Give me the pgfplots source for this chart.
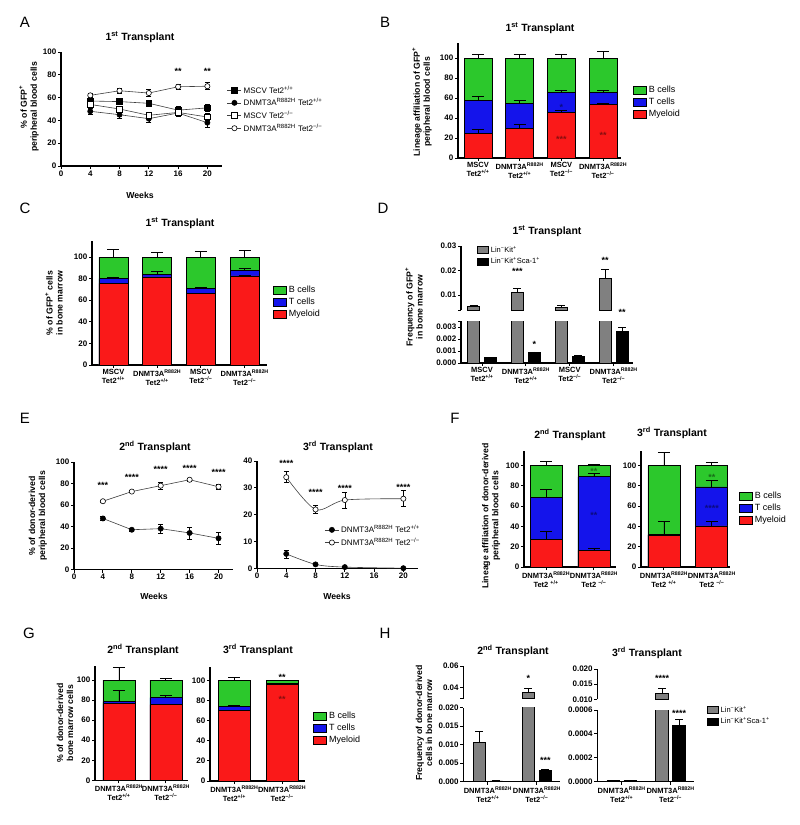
\documentclass[border=0pt]{standalone}
\usepackage{fontspec}
\setmainfont{Liberation Sans}
\usepackage{pgfplots}
\pgfplotsset{compat=1.18}

\definecolor{cgreen}{RGB}{44,200,44}
\definecolor{cblue}{RGB}{20,20,235}
\definecolor{cred}{RGB}{250,25,25}
\definecolor{cgray}{RGB}{128,128,128}

\tikzset{
  star/.style={font=\bfseries\fontsize{9}{9}\selectfont, yshift=-2pt, inner sep=0pt},
  plab/.style={font=\fontsize{15}{15}\selectfont, anchor=center},
  ttl/.style={font=\bfseries\fontsize{10.5}{12}\selectfont, anchor=center},
  ylab/.style={font=\bfseries\fontsize{8.7}{10}\selectfont, rotate=90, align=center, anchor=center},
  xlab/.style={font=\bfseries\fontsize{8.7}{10}\selectfont, anchor=center},
}

\pgfplotsset{
  gp/.style={scale only axis, anchor=south west,
    axis x line*=bottom, axis y line*=left,
    axis line style={-, line width=1.1pt, black},
    tick align=outside, major tick length=3pt,
    tick style={line width=1pt, black},
    ticklabel style={font=\bfseries\fontsize{8}{9}\selectfont, inner sep=1.5pt},
    /pgf/number format/assume math mode=true,
    scaled ticks=false, enlargelimits=false},
  bxt/.style={xticklabel style={align=center, font=\bfseries\fontsize{7.5}{9}\selectfont}},
  sbar/.style={ybar, bar shift=0pt, bar width=#1, draw=black, line width=0.8pt,
    error bars/y dir=plus, error bars/y explicit,
    error bars/error bar style={line width=0.9pt, black},
    error bars/error mark options={rotate=90, line width=0.9pt, mark size=6pt, black}},
  gbar/.style={ybar, bar shift=0pt, bar width=#1, draw=black, line width=0.8pt,
    error bars/y dir=plus, error bars/y explicit,
    error bars/error bar style={line width=0.9pt, black},
    error bars/error mark options={rotate=90, line width=0.9pt, mark size=4pt, black}},
  blegend/.style={legend style={draw=none, fill=none, font=\fontsize{9}{10}\selectfont, anchor=north west, at={#1}},
    legend cell align=left,
    legend image code/.code={\draw[##1, line width=0.8pt] (0pt,-4pt) rectangle (13pt,4pt);}},
  slegend/.style={legend style={draw=none, fill=none, font=\fontsize{7.5}{9}\selectfont, anchor=north west, at={#1}},
    legend cell align=left,
    legend image code/.code={\draw[##1, line width=0.8pt] (0pt,-3.5pt) rectangle (11pt,3.5pt);}},
  llegend/.style={legend style={draw=none, fill=none, font=\fontsize{8}{9}\selectfont, anchor=north west, at={#1}},
    legend cell align=left,
    legend image code/.code={\draw[mark repeat=2,mark phase=2,##1] plot coordinates {(0pt,0pt)(7pt,0pt)(14pt,0pt)};}},
  lp/.style={black!75, line width=0.6pt,
    error bars/y dir=both, error bars/y explicit,
    error bars/error bar style={line width=0.6pt, black},
    error bars/error mark options={rotate=90, line width=0.6pt, mark size=2.5pt, black}},
}

\begin{document}
\begin{tikzpicture}
\path[use as bounding box] (0,0) rectangle (800pt,-825pt);

% ================= A =================
\begin{axis}[gp, at={(61pt,-166pt)}, width=161pt, height=114pt,
  xmin=0, xmax=22, ymin=0, ymax=100, xtick={0,4,...,20}, ytick={0,20,...,100}, clip=false,
  llegend={(axis description cs:1.012,0.74)}]
\addplot[lp, mark=square*, mark size=2.8pt, mark options={fill=black, draw=black, solid}] coordinates {(4,57)+-(0,1.5) (8,56.5)+-(0,1.5) (12,55)+-(0,2) (16,49)+-(0,3) (20,51)+-(0,3)};
\addlegendentry{MSCV Tet2\textsuperscript{+/+}}
\addplot[lp, mark=*, mark size=2.6pt, mark options={fill=black, draw=black, solid}] coordinates {(4,48)+-(0,3) (8,45)+-(0,3) (12,41.5)+-(0,3) (16,46.5)+-(0,2.5) (20,38)+-(0,4)};
\addlegendentry{DNMT3A\textsuperscript{R882H} Tet2\textsuperscript{+/+}}
\addplot[lp, mark=square*, mark size=2.8pt, mark options={fill=white, draw=black, solid}] coordinates {(4,54)+-(0,2) (8,50)+-(0,2) (12,44.5)+-(0,2) (16,47)+-(0,2) (20,43)+-(0,3)};
\addlegendentry{MSCV Tet2\textsuperscript{−/−}}
\addplot[lp, mark=*, mark size=2.6pt, mark options={fill=white, draw=black, solid}] coordinates {(4,62)+-(0,1.5) (8,66)+-(0,2) (12,64)+-(0,3) (16,69.5)+-(0,2.5) (20,70)+-(0,3)};
\addlegendentry{DNMT3A\textsuperscript{R882H} Tet2\textsuperscript{−/−}}
\node[star] at (axis cs:16,85) {**};
\node[star] at (axis cs:20,85) {**};
\end{axis}

% ================= B =================
\begin{axis}[gp, bxt, at={(458pt,-158pt)}, width=163pt, height=115pt,
  xmin=-0.48, xmax=3.43, ymin=0, ymax=115, ytick={0,20,...,100}, xtick={0,1,2,3},
  xticklabels={{MSCV\\Tet2\textsuperscript{+/+}},{DNMT3A\textsuperscript{R882H}\\Tet2\textsuperscript{+/+}},{MSCV\\Tet2\textsuperscript{−/−}},{DNMT3A\textsuperscript{R882H}\\Tet2\textsuperscript{−/−}}},
  clip=false, blegend={(axis description cs:1.055,0.661)}]
\addplot[fill=cgreen, sbar=28pt] coordinates {(0,100)+-(0,4) (1,100)+-(0,4) (2,100)+-(0,4) (3,100)+-(0,7)};
\addlegendentry{B cells}
\addplot[fill=cblue, sbar=28pt] coordinates {(0,57.5)+-(0,4) (1,54.5)+-(0,3) (2,65.5)+-(0,2) (3,66)+-(0,1.5)};
\addlegendentry{T cells}
\addplot[fill=cred, sbar=28pt] coordinates {(0,25)+-(0,3.5) (1,30)+-(0,3.5) (2,45.5)+-(0,2) (3,53.5)+-(0,1)};
\addlegendentry{Myeloid}
\node[star, text=cred!55!black] at (axis cs:2,21) {***};
\node[star, text=cred!55!black] at (axis cs:3,25) {**};
\node[star, text=cblue!55!black] at (axis cs:2,53) {*};
\end{axis}

% ================= C =================
\begin{axis}[gp, bxt, at={(92pt,-365pt)}, width=175pt, height=124.2pt,
  xmin=-0.49, xmax=3.51, ymin=0, ymax=115, ytick={0,20,...,100}, xtick={0,1,2,3},
  xticklabels={{MSCV\\Tet2\textsuperscript{+/+}},{DNMT3A\textsuperscript{R882H}\\Tet2\textsuperscript{+/+}},{MSCV\\Tet2\textsuperscript{−/−}},{DNMT3A\textsuperscript{R882H}\\Tet2\textsuperscript{−/−}}},
  clip=false, blegend={(axis description cs:1.017,0.668)}]
\addplot[fill=cgreen, sbar=29pt] coordinates {(0,100)+-(0,7) (1,100)+-(0,4.5) (2,100)+-(0,5.5) (3,100)+-(0,6)};
\addlegendentry{B cells}
\addplot[fill=cblue, sbar=29pt] coordinates {(0,80)+-(0,1.5) (1,84)+-(0,2.5) (2,71)+-(0,1) (3,87.5)+-(0,2)};
\addlegendentry{T cells}
\addplot[fill=cred, sbar=29pt] coordinates {(0,75.5)+-(0,0) (1,81.5)+-(0,0) (2,66)+-(0,0) (3,82.5)+-(0,0)};
\addlegendentry{Myeloid}
\end{axis}

% ================= D (top) =================
\begin{axis}[gp, at={(461pt,-310pt)}, width=172pt, height=64pt,
  xmin=-0.48, xmax=3.44, ymin=0.004, ymax=0.03, axis x line=none,
  ytick={0.01,0.02,0.03}, yticklabels={0.01,0.02,0.03},
  extra y ticks={0.004}, extra y tick labels={},
  clip=true, clip mode=individual,
  slegend={(axis description cs:0.075,1.06)}]
\addplot[fill=cgray, gbar=12pt] coordinates {(-0.194,0.0055)+-(0,0.0003) (0.806,0.0113)+-(0,0.0013) (1.806,0.0050)+-(0,0.0009) (2.806,0.0168)+-(0,0.0038)};
\addlegendentry{Lin\textsuperscript{−}Kit\textsuperscript{+}}
\addlegendimage{fill=black, draw=black}
\addlegendentry{Lin\textsuperscript{−}Kit\textsuperscript{+}Sca-1\textsuperscript{+}}
\node[star] at (axis cs:0.806,0.0205) {***};
\node[star] at (axis cs:2.806,0.0251) {**};
\node[star] at (axis cs:3.194,0.0039) {**};
\end{axis}
% ================= D (bottom) =================
\begin{axis}[gp, bxt, at={(461pt,-363pt)}, width=172pt, height=42pt,
  xmin=-0.48, xmax=3.44, ymin=0, ymax=0.0035,
  ytick={0,0.001,0.002,0.003}, yticklabels={0.000,0.001,0.002,0.003},
  extra y ticks={0.0035}, extra y tick labels={},
  xtick={0,1,2,3},
  xticklabels={{MSCV\\Tet2\textsuperscript{+/+}},{DNMT3A\textsuperscript{R882H}\\Tet2\textsuperscript{+/+}},{MSCV\\Tet2\textsuperscript{−/−}},{DNMT3A\textsuperscript{R882H}\\Tet2\textsuperscript{−/−}}},
  clip=true, clip mode=individual]
\addplot[fill=cgray, gbar=12pt] coordinates {(-0.194,0.0055)+-(0,0) (0.806,0.0113)+-(0,0) (1.806,0.0050)+-(0,0) (2.806,0.0168)+-(0,0)};
\addplot[fill=black, gbar=12pt] coordinates {(0.194,0.00045)+-(0,0.00003) (1.194,0.00089)+-(0,0.00003) (2.194,0.00052)+-(0,0.00008) (3.194,0.0026)+-(0,0.0004)};
\node[star] at (axis cs:1.194,0.00175) {*};
\end{axis}

% ================= E (left) =================
\begin{axis}[gp, at={(74pt,-569.5pt)}, width=159pt, height=107.5pt,
  xmin=0, xmax=22, ymin=0, ymax=100, xtick={0,4,...,20}, ytick={0,20,...,100}, clip=false]
\addplot[lp, mark=*, mark size=2.6pt, mark options={fill=black, draw=black, solid}] coordinates {(4,47.5)+-(0,2) (8,37)+-(0,1) (12,38)+-(0,4) (16,34)+-(0,5.5) (20,29)+-(0,6)};
\addplot[lp, mark=*, mark size=2.6pt, mark options={fill=white, draw=black, solid}] coordinates {(4,63.5)+-(0,1) (8,72.5)+-(0,1) (12,78)+-(0,3) (16,83.5)+-(0,1) (20,77)+-(0,2)};
\node[star] at (axis cs:4,80) {***};
\node[star] at (axis cs:8,88) {****};
\node[star] at (axis cs:12,95) {****};
\node[star] at (axis cs:16,96) {****};
\node[star] at (axis cs:20,92) {****};
\end{axis}

% ================= E (right) =================
\begin{axis}[gp, at={(257pt,-568.7pt)}, width=161pt, height=107.7pt,
  xmin=0, xmax=22, ymin=0, ymax=40, xtick={0,4,...,20}, ytick={0,10,...,40}, clip=false,
  llegend={(axis description cs:0.40,0.44)}]
\addplot[lp, smooth, mark=*, mark size=2.6pt, mark options={fill=black, draw=black, solid}] coordinates {(4,5.5)+-(0,1.5) (8,1.6)+-(0,0.3) (12,0.6)+-(0,0.2) (20,0.2)+-(0,0.1)};
\addlegendentry{DNMT3A\textsuperscript{R882H} Tet2\textsuperscript{+/+}}
\addplot[lp, smooth, mark=*, mark size=2.6pt, mark options={fill=white, draw=black, solid}] coordinates {(4,34)+-(0,2) (8,22)+-(0,1.5) (12,25.5)+-(0,3) (20,26)+-(0,3)};
\addlegendentry{DNMT3A\textsuperscript{R882H} Tet2\textsuperscript{−/−}}
\node[star] at (axis cs:4,40) {****};
\node[star] at (axis cs:8,29) {****};
\node[star] at (axis cs:12,30.5) {****};
\node[star] at (axis cs:20,31) {****};
\end{axis}

% ================= F (left) =================
\begin{axis}[gp, bxt, at={(524pt,-567pt)}, width=92pt, height=116.5pt,
  xmin=-0.46, xmax=1.46, ymin=0, ymax=115, ytick={0,20,...,100}, xtick={0,1},
  xticklabels={{DNMT3A\textsuperscript{R882H}\\Tet2 \textsuperscript{+/+}},{DNMT3A\textsuperscript{R882H}\\Tet2 \textsuperscript{−/−}}},
  clip=false]
\addplot[fill=cgreen, sbar=32pt] coordinates {(0,100)+-(0,4.5) (1,100)+-(0,1.5)};
\addplot[fill=cblue, sbar=32pt] coordinates {(0,69)+-(0,8) (1,89)+-(0,3)};
\addplot[fill=cred, sbar=32pt] coordinates {(0,27.5)+-(0,7.5) (1,16.5)+-(0,1.5)};
\node[star, text=cgreen!55!black] at (axis cs:1,96) {**};
\node[star, text=cblue!55!black] at (axis cs:1,53) {**};
\end{axis}

% ================= F (right) =================
\begin{axis}[gp, bxt, at={(641pt,-567pt)}, width=89pt, height=116.5pt,
  xmin=-0.48, xmax=1.38, ymin=0, ymax=115, ytick={0,20,...,100}, xtick={0,1},
  xticklabels={{DNMT3A\textsuperscript{R882H}\\Tet2 \textsuperscript{+/+}},{DNMT3A\textsuperscript{R882H}\\Tet2 \textsuperscript{−/−}}},
  clip=false, blegend={(axis description cs:1.067,0.678)}]
\addplot[fill=cgreen, sbar=32pt] coordinates {(0,100)+-(0,13.5) (1,100)+-(0,3)};
\addlegendentry{B cells}
\addplot[fill=cblue, sbar=32pt] coordinates {(0,32)+-(0,13) (1,79)+-(0,6)};
\addlegendentry{T cells}
\addplot[fill=cred, sbar=32pt] coordinates {(0,31.5)+-(0,0) (1,40.5)+-(0,4.5)};
\addlegendentry{Myeloid}
\node[star, text=cgreen!55!black] at (axis cs:1,90) {**};
\node[star, text=cblue!55!black] at (axis cs:1,60) {****};
\end{axis}

% ================= G (left) =================
\begin{axis}[gp, bxt, at={(95pt,-780.3pt)}, width=93pt, height=114.3pt,
  xmin=-0.51, xmax=1.47, ymin=0, ymax=114, ytick={0,20,...,100}, xtick={0,1},
  xticklabels={{DNMT3A\textsuperscript{R882H}\\Tet2\textsuperscript{+/+}},{DNMT3A\textsuperscript{R882H}\\Tet2\textsuperscript{−/−}}},
  clip=false]
\addplot[fill=cgreen, sbar=32pt] coordinates {(0,100)+-(0,12.5) (1,100)+-(0,1.5)};
\addplot[fill=cblue, sbar=32pt] coordinates {(0,78.5)+-(0,11) (1,82.5)+-(0,2)};
\addplot[fill=cred, sbar=32pt] coordinates {(0,76.5)+-(0,0) (1,75.5)+-(0,0)};
\end{axis}

% ================= G (right) =================
\begin{axis}[gp, bxt, at={(210pt,-781pt)}, width=95pt, height=114.3pt,
  xmin=-0.51, xmax=1.48, ymin=0, ymax=114, ytick={0,20,...,100}, xtick={0,1},
  xticklabels={{DNMT3A\textsuperscript{R882H}\\Tet2\textsuperscript{+/+}},{DNMT3A\textsuperscript{R882H}\\Tet2\textsuperscript{−/−}}},
  clip=false, blegend={(axis description cs:1.053,0.639)}]
\addplot[fill=cgreen, sbar=32pt] coordinates {(0,100)+-(0,3.5) (1,100)+-(0,0.5)};
\addlegendentry{B cells}
\addplot[fill=cblue, sbar=32pt] coordinates {(0,74.5)+-(0,0.5) (1,97.5)+-(0,0)};
\addlegendentry{T cells}
\addplot[fill=cred, sbar=32pt] coordinates {(0,70.5)+-(0,0) (1,96)+-(0,0)};
\addlegendentry{Myeloid}
\node[star] at (axis cs:1,105) {**};
\node[star, text=cred!55!black] at (axis cs:1,83) {**};
\end{axis}

% ================= H left (top) =================
\begin{axis}[gp, at={(463.3pt,-698.5pt)}, width=96.7pt, height=32.5pt,
  xmin=-0.5, xmax=1.47, ymin=0.03, ymax=0.06, axis x line=none,
  ytick={0.04,0.06}, yticklabels={0.04,0.06},
  extra y ticks={0.03}, extra y tick labels={},
  clip=true, clip mode=individual]
\addplot[fill=cgray, gbar=12.5pt] coordinates {(0.827,0.0355)+-(0,0.004)};
\node[star] at (axis cs:0.827,0.050) {*};
\end{axis}
% ================= H left (bottom) =================
\begin{axis}[gp, bxt, at={(463.3pt,-781.7pt)}, width=96.7pt, height=74pt,
  xmin=-0.5, xmax=1.47, ymin=0, ymax=0.02,
  ytick={0,0.005,0.01,0.015,0.02}, yticklabels={0.000,0.005,0.010,0.015,0.020},
  xtick={0,1},
  xticklabels={{DNMT3A\textsuperscript{R882H}\\Tet2\textsuperscript{+/+}},{DNMT3A\textsuperscript{R882H}\\Tet2\textsuperscript{−/−}}},
  clip=true, clip mode=individual]
\addplot[fill=cgray, gbar=12.5pt] coordinates {(-0.173,0.0107)+-(0,0.003) (0.827,0.0355)+-(0,0)};
\addplot[fill=black, gbar=12.5pt] coordinates {(0.173,0.0002)+-(0,0.00005) (1.173,0.0031)+-(0,0.0002)};
\node[star] at (axis cs:1.173,0.0064) {***};
\end{axis}

% ================= H right (top) =================
\begin{axis}[gp, at={(597.3pt,-699.3pt)}, width=96.7pt, height=30.3pt,
  xmin=-0.5, xmax=1.48, ymin=0.01, ymax=0.02, axis x line=none,
  ytick={0.01,0.015,0.02}, yticklabels={0.010,0.015,0.020},
  clip=true, clip mode=individual]
\addplot[fill=cgray, gbar=12.5pt] coordinates {(0.826,0.0118)+-(0,0.0017)};
\node[star] at (axis cs:0.826,0.0174) {****};
\end{axis}
% ================= H right (bottom) =================
\begin{axis}[gp, bxt, at={(597.3pt,-781.7pt)}, width=96.7pt, height=71.7pt,
  xmin=-0.5, xmax=1.48, ymin=0, ymax=0.0006,
  ytick={0,0.0002,0.0004,0.0006}, yticklabels={0.0000,0.0002,0.0004,0.0006},
  xtick={0,1},
  xticklabels={{DNMT3A\textsuperscript{R882H}\\Tet2\textsuperscript{+/+}},{DNMT3A\textsuperscript{R882H}\\Tet2\textsuperscript{−/−}}},
  clip=true, clip mode=individual,
  slegend={(axis description cs:1.10,1.11)}]
\addplot[fill=cgray, gbar=12.5pt] coordinates {(-0.174,0.000012)+-(0,0.000002) (0.826,0.0118)+-(0,0)};
\addlegendentry{Lin\textsuperscript{−}Kit\textsuperscript{+}}
\addplot[fill=black, gbar=12.5pt] coordinates {(0.174,0.00001)+-(0,0.000002) (1.174,0.00047)+-(0,0.00005)};
\addlegendentry{Lin\textsuperscript{−}Kit\textsuperscript{+}Sca-1\textsuperscript{+}}
\node[star] at (axis cs:1.174,0.000586) {****};
\end{axis}

% ================= annotations =================
\begin{scope}[x=1pt, y=-1pt]
\node[plab] at (25,22) {A};
\node[plab] at (385,22) {B};
\node[plab] at (25,208) {C};
\node[plab] at (383,208) {D};
\node[plab] at (25,418) {E};
\node[plab] at (455,418) {F};
\node[plab] at (29,633) {G};
\node[plab] at (385,633) {H};

\node[ttl] at (140,37) {1\textsuperscript{st} Transplant};
\node[ttl] at (540,28) {1\textsuperscript{st} Transplant};
\node[ttl] at (180,223) {1\textsuperscript{st} Transplant};
\node[ttl] at (547,231) {1\textsuperscript{st} Transplant};
\node[ttl] at (155,447) {2\textsuperscript{nd} Transplant};
\node[ttl] at (338,447) {3\textsuperscript{rd} Transplant};
\node[ttl] at (570,435) {2\textsuperscript{nd} Transplant};
\node[ttl] at (672,433) {3\textsuperscript{rd} Transplant};
\node[ttl] at (143,650) {2\textsuperscript{nd} Transplant};
\node[ttl] at (258,650) {3\textsuperscript{rd} Transplant};
\node[ttl] at (513,651) {2\textsuperscript{nd} Transplant};
\node[ttl] at (647,653) {3\textsuperscript{rd} Transplant};

\node[ylab] at (29,107) {\% of GFP\textsuperscript{+}\\peripheral blood cells};
\node[ylab] at (422,102) {Lineage affiliation of GFP\textsuperscript{+}\\peripheral blood cells};
\node[ylab] at (54,303) {\% of GFP\textsuperscript{+} cells\\in bone marrow};
\node[ylab] at (414,307) {Frequency of GFP\textsuperscript{+}\\in bone marrow};
\node[ylab] at (38,516) {\% of donor-derived\\peripheral blood cells};
\node[ylab] at (491,516) {Lineage affiliation of donor-derived\\peripheral blood cells};
\node[ylab] at (65,723) {\% of donor-derived\\bone marrow cells};
\node[ylab] at (424,723) {Frequency of donor-derived\\cells in bone marrow};

\node[xlab] at (140,195) {Weeks};
\node[xlab] at (154,596) {Weeks};
\node[xlab] at (337,596) {Weeks};
\end{scope}
\end{tikzpicture}
\end{document}
